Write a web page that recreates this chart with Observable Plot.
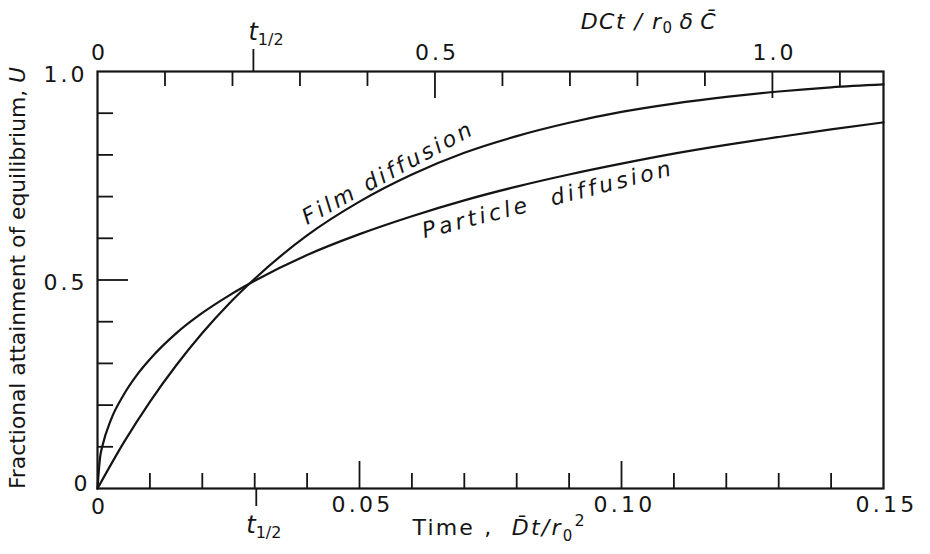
<!DOCTYPE html>
<html><head><meta charset="utf-8">
<script src="https://cdn.jsdelivr.net/npm/d3@7"></script>
<script src="https://cdn.jsdelivr.net/npm/@observablehq/plot@0.6"></script>
<style>body{margin:0;background:#fff} svg{display:block}</style>
</head><body><div id="chart"></div>
<script>
// ---- data ----
const timeParticle = [0, 0.0005, 0.001, 0.0025, 0.005, 0.0075, 0.01, 0.015, 0.02, 0.025, 0.03, 0.04, 0.05, 0.06, 0.07, 0.08, 0.09, 0.10, 0.11, 0.12, 0.13, 0.14, 0.15];
const uParticle    = [0, 0.075, 0.105, 0.163, 0.225, 0.272, 0.31, 0.372, 0.421, 0.462, 0.498, 0.56, 0.61, 0.653, 0.691, 0.724, 0.753, 0.779, 0.803, 0.824, 0.843, 0.861, 0.878];
const timeFilm = [0, 0.005, 0.01, 0.015, 0.02, 0.025, 0.03, 0.04, 0.05, 0.06, 0.07, 0.08, 0.09, 0.10, 0.11, 0.12, 0.13, 0.14, 0.15];
const uFilm    = [0, 0.11, 0.208, 0.295, 0.373, 0.442, 0.503, 0.607, 0.688, 0.753, 0.805, 0.845, 0.877, 0.903, 0.923, 0.939, 0.952, 0.962, 0.969];

const bottomMinorTicks = [0.01, 0.02, 0.03, 0.04, 0.06, 0.07, 0.08, 0.09, 0.11, 0.12, 0.13, 0.14];
const bottomMajorTicks = [0.05, 0.10];
const bottomTickValues = [0.05, 0.10, 0.15];
const bottomTickLabels = ["0.05", "0.10", "0.15"];
const topMinorTicks = [0.1, 0.2, 0.3, 0.4, 0.6, 0.7, 0.8, 0.9, 1.1];
const topMajorTicks = [0.5, 1.0];
const topTickValues = [0, 0.5, 1.0];
const topTickLabels = ["0", "0.5", "1.0"];
const leftMinorTicks = [0.1, 0.2, 0.3, 0.4, 0.6, 0.7, 0.8, 0.9];
const leftMajorTicks = [0.5];
const leftTickValues = [1.0, 0.5];
const leftTickLabels = ["1.0", "0.5"];
const tHalfBottom = 0.0303;   // Dt/r0^2 at U = 1/2
const tHalfTop = 0.231;       // DCt/r0δC at U = 1/2
const topToBottom = 0.1288;   // 1.0 on the top scale sits at this bottom-scale value

const curveLabels = [
  {t: 0.0555, u: 0.757, text: "Film diffusion", rotate: -28.5},
  {t: 0.0860, u: 0.693, text: "Particle  diffusion", rotate: -14.3}
];

// ---- layout ----
const W = 930, Hs = 554, mT = 71, mR = 47, mB = 66, mL = 97;
const FH = Hs - mT - mB, FW = W - mL - mR;
const ink = "#141414";
const font = "DejaVu Sans";

const particle = timeParticle.map((t, i) => ({t, u: uParticle[i]}));
const film = timeFilm.map((t, i) => ({t, u: uFilm[i]}));

const tickStyle = {stroke: ink, strokeWidth: 1.8};
const labelStyle = {fill: ink, fontSize: 22, fontFamily: font, lineAnchor: "middle"};
const titleStyle = {fill: ink, fontSize: 22, fontFamily: font, lineAnchor: "middle"};

const chart = Plot.plot({
  width: W, height: Hs,
  marginTop: mT, marginRight: mR, marginBottom: mB, marginLeft: mL,
  x: {domain: [0, 0.15], axis: null},
  y: {domain: [0, 1], axis: null},
  style: {background: "#fff", overflow: "visible"},
  marks: [
    Plot.frame({stroke: ink, strokeWidth: 2.2}),
    // bottom ticks
    Plot.tickX(bottomMinorTicks, {x: d => d, insetTop: FH - 15, ...tickStyle}),
    Plot.tickX(bottomMajorTicks, {x: d => d, insetTop: FH - 27, ...tickStyle}),
    Plot.tickX([tHalfBottom], {x: d => d, insetTop: FH, insetBottom: -18, ...tickStyle}),
    // top ticks
    Plot.tickX(topMinorTicks, {x: d => d * topToBottom, insetBottom: FH - 15, ...tickStyle}),
    Plot.tickX(topMajorTicks, {x: d => d * topToBottom, insetBottom: FH - 27, ...tickStyle}),
    Plot.tickX([tHalfTop], {x: d => d * topToBottom, insetTop: -22, insetBottom: FH, ...tickStyle}),
    // left ticks
    Plot.tickY(leftMinorTicks, {y: d => d, insetRight: FW - 16, ...tickStyle}),
    Plot.tickY(leftMajorTicks, {y: d => d, insetRight: FW - 31, ...tickStyle}),
    // curves
    Plot.line(particle, {x: "t", y: "u", curve: "monotone-x", stroke: ink, strokeWidth: 2.2}),
    Plot.line(film, {x: "t", y: "u", curve: "monotone-x", stroke: ink, strokeWidth: 2.2}),
    // tick labels
    Plot.text(bottomTickValues, {x: d => d, text: (d, i) => bottomTickLabels[i], frameAnchor: "bottom", dy: 16, dx: 3, ...labelStyle}),
    Plot.text(["0"], {x: () => 0, text: d => d, frameAnchor: "bottom", dy: 18, dx: 2, ...labelStyle}),
    Plot.text(topTickValues, {x: d => d * topToBottom, text: (d, i) => topTickLabels[i], frameAnchor: "top", dy: -19, dx: 2, ...labelStyle}),
    Plot.text(leftTickValues, {y: d => d, text: (d, i) => leftTickLabels[i], frameAnchor: "left", textAnchor: "end", dx: -10, dy: 3, ...labelStyle}),
    Plot.text(["0"], {y: () => 0, text: d => d, frameAnchor: "left", textAnchor: "end", dx: -7, dy: -5, ...labelStyle}),
    // t1/2 labels
    Plot.text(["T_HALF"], {x: () => tHalfBottom, text: d => d, frameAnchor: "bottom", textAnchor: "start", dx: -10, dy: 37, ...titleStyle, fontSize: 24}),
    Plot.text(["T_HALF"], {x: () => tHalfTop * topToBottom, text: d => d, frameAnchor: "top", textAnchor: "start", dx: -5, dy: -39, ...titleStyle, fontSize: 24}),
    // curve labels
    Plot.text(curveLabels, {x: "t", y: "u", text: "text", rotate: "rotate", fontStyle: "italic", fill: ink, fontSize: 22, fontFamily: font}),
    // axis titles
    Plot.text(["X_TITLE"], {x: () => 0.0601, text: d => d, frameAnchor: "bottom", textAnchor: "start", dy: 39, ...titleStyle}),
    Plot.text(["TOP_TITLE"], {x: () => 0.0922, text: d => d, frameAnchor: "top", textAnchor: "start", dy: -50, ...titleStyle}),
    Plot.text(["Y_TITLE"], {y: () => 0.505, text: d => d, frameAnchor: "left", textAnchor: "middle", dx: -80, rotate: -90, ...titleStyle, fontFamily: "DejaVu Sans Condensed, DejaVu Sans"})
  ]
});

// rich text (italics, sub/superscripts, overbars)
const rich = {
  "T_HALF": '<tspan font-style="italic">t</tspan><tspan font-size="16" dy="5">1/2</tspan>',
  "X_TITLE": 'Time ,  <tspan font-style="italic">D\u0304t/r</tspan><tspan font-size="15" dy="6">0</tspan><tspan font-size="16" dy="-15">2</tspan>',
  "TOP_TITLE": '<tspan font-style="italic">DCt / r</tspan><tspan font-size="15" dy="4">0</tspan><tspan dy="-4" font-style="italic">\u2009δ\u2009C\u0304</tspan>',
  "Y_TITLE": 'Fractional attainment of equilibrium, <tspan font-style="italic">U</tspan>'
};
// letter spacing to imitate the wide hand lettering
const spacing = {"0": 3, "0.5": 3, "1.0": 3, "0.05": 3.2, "0.10": 3.2, "0.15": 3.2,
  "Film diffusion": 3.2, "Particle  diffusion": 3.6, "X_TITLE": 2.2, "TOP_TITLE": 1.5};
d3.select(chart).selectAll("text").each(function() {
  const key = this.textContent;
  if (spacing[key] != null) this.style.letterSpacing = spacing[key] + "px";
  if (rich[key]) this.innerHTML = rich[key];
});
d3.select(chart).selectAll("text").filter(function() { return this.textContent.startsWith("Fractional"); })
  .attr("textLength", 422).attr("lengthAdjust", "spacingAndGlyphs");

document.getElementById("chart").appendChild(chart);
</script>
</body></html>
